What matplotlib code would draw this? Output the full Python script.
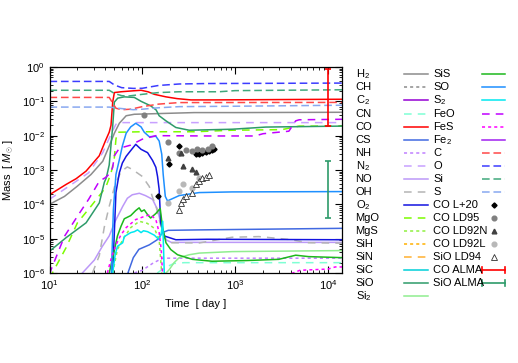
import matplotlib
matplotlib.use('Agg')
import matplotlib.pyplot as plt
from matplotlib.lines import Line2D
import numpy as np

plt.rcParams['font.family'] = ['Liberation Sans', 'DejaVu Sans']
plt.rcParams['mathtext.fontset'] = 'custom'
plt.rcParams['mathtext.rm'] = 'Liberation Sans'
plt.rcParams['mathtext.it'] = 'Liberation Sans:italic'
plt.rcParams['mathtext.sf'] = 'Liberation Sans'
plt.rcParams['font.size'] = 8

# ---------------- data (time [day], mass [Msun]) ----------------
t_H2 = [10, 14.5, 20, 28, 37.5, 44, 50, 56.6, 67, 82, 150, 362, 1000, 14200]
m_H2 = [1.0e-4, 1.7e-4, 3.4e-4, 7.4e-4, 1.8e-3, 5e-3, 1.18e-2, 2.3e-2, 3.8e-2, 4.2e-2, 4.4e-2, 4.7e-2, 4.7e-2, 4.8e-2]

t_CO = [10, 15.1, 19.4, 24.8, 34.4, 40, 44, 46, 48, 50, 59, 75, 97, 115, 135, 180, 237, 334, 600, 14200]
m_CO = [1.9e-4, 3.8e-4, 5.6e-4, 9.3e-4, 2.6e-3, 7e-3, 1.26e-2, 2.0e-2, 9.5e-2, 0.18, 0.19, 0.20, 0.21, 0.19, 0.16, 0.135, 0.12, 0.11, 0.11, 0.115]

t_N2 = [10, 18.5, 26.4, 37.5, 46, 52, 56.6, 14200]
m_N2 = [1.4e-4, 4.3e-4, 8.3e-4, 3.2e-3, 1.1e-2, 2.15e-2, 2.4e-2, 2.4e-2]

t_SiO = [10, 15.1, 24.8, 34.4, 39, 41, 44, 48, 50, 54.4, 64, 82, 97, 123, 141, 152, 180, 230, 320, 930, 2150, 14200]
m_SiO = [4.3e-6, 1.07e-5, 2.9e-5, 1.1e-4, 4.4e-4, 6e-4, 1.4e-3, 1.9e-2, 9.5e-2, 0.124, 0.135, 0.13, 0.10, 0.074, 0.056, 0.038, 0.027, 0.0173, 0.0144, 0.0154, 0.0178, 0.019]

t_MgO = [10, 15.1, 20, 28, 37.5, 41, 46, 50, 52, 54, 100, 362, 930, 3200, 4900, 14200]
m_MgO = [7e-7, 5.5e-6, 2.9e-5, 8.8e-5, 2.4e-4, 3.5e-4, 8e-4, 2.3e-3, 7.9e-3, 1.26e-2, 1.3e-2, 1.3e-2, 1.44e-2, 1.5e-2, 1.9e-2, 1.9e-2]

t_FeO = [10, 10.4, 14.5, 20, 26.4, 30.5, 34.4, 40, 45, 48, 50, 56.6, 75, 100, 140, 500, 1640, 2000, 3800, 4500, 4900, 14200]
m_FeO = [9e-7, 1.25e-6, 1.17e-5, 4.5e-5, 1.4e-4, 2.7e-4, 4.7e-4, 6e-4, 8e-4, 1.2e-3, 2.6e-3, 4.3e-3, 5.3e-3, 7.9e-3, 1e-2, 9.8e-3, 9.8e-3, 1.14e-2, 1.35e-2, 2.7e-2, 2.9e-2, 3.0e-2]

t_O2 = [48, 52, 56.6, 61, 67, 72, 85, 97, 114, 129, 140, 146, 152, 158, 172, 230, 500, 14200]
m_O2 = [1e-6, 2.2e-4, 8.3e-4, 1.6e-3, 2.5e-3, 3.2e-3, 5.6e-3, 4e-3, 3.2e-3, 1.9e-3, 1.2e-3, 6.5e-4, 2.7e-4, 2.9e-5, 1.2e-5, 9.3e-6, 9.6e-6, 9.3e-6]

t_SO = [46.5, 48.8, 52, 56.6, 61, 67, 75, 85, 97, 105, 119, 140, 152, 162, 168, 177, 187, 250, 410, 930, 14200]
m_SO = [1e-6, 7e-5, 7.4e-4, 2e-3, 5e-3, 1.18e-2, 1.8e-2, 2.3e-2, 1.8e-2, 1.26e-2, 9.3e-3, 9.6e-3, 7e-3, 2.9e-3, 7.4e-4, 1.7e-4, 1.26e-4, 1.8e-4, 2.2e-4, 2.3e-4, 2.35e-4]

t_SiS = [44, 48.8, 54, 59, 64, 75, 85, 92.5, 98, 105, 114, 123, 140, 156, 165, 180, 203, 240, 346, 565, 1300, 2960, 4500, 6200, 14200]
m_SiS = [1e-6, 3.4e-6, 1.2e-5, 2.3e-5, 3.8e-5, 4.7e-5, 6.6e-5, 7.9e-5, 6.2e-5, 6.9e-5, 5e-5, 4e-5, 5.4e-5, 7.6e-5, 2.2e-5, 7.6e-6, 4.8e-6, 3.4e-6, 2.5e-6, 2.2e-6, 2.3e-6, 2.5e-6, 3.3e-6, 3.0e-6, 2.8e-6]

t_S2 = [48, 51, 54, 61.5, 64, 75, 82, 89, 97, 103, 114, 135, 152, 160, 166, 173]
m_S2 = [1e-6, 3.4e-6, 6e-6, 7.6e-6, 1.15e-5, 1.5e-5, 1.6e-5, 1.8e-5, 1.5e-5, 1.7e-5, 1.6e-5, 1.26e-5, 9.3e-6, 1.4e-5, 3.2e-5, 8e-7]

t_NO = [22.6, 30.5, 37, 44, 51, 61.5, 69, 78, 93, 108, 129, 146, 165, 180, 205, 14200]
m_NO = [1e-6, 2.4e-6, 5.9e-6, 1.2e-5, 3.2e-5, 8.7e-5, 1.5e-4, 1.9e-4, 2.1e-4, 1.8e-4, 1.4e-4, 7e-5, 1.8e-5, 9.3e-6, 7.8e-6, 7.8e-6]

t_OH = [29, 34.4, 39, 44, 51, 59, 69, 78, 100, 119, 128, 141, 152, 172, 195, 410, 930, 1800, 3800, 6200, 14200]
m_OH = [1e-6, 3.2e-6, 2.2e-5, 8.7e-5, 3.8e-4, 9e-4, 1.23e-3, 1.04e-3, 6.5e-4, 3.3e-4, 1.7e-4, 8.7e-5, 3.6e-5, 1.07e-5, 7.6e-6, 7.5e-6, 1.1e-5, 1.15e-5, 9.5e-6, 7.6e-6, 7.4e-6]

t_CS = [70, 80, 92, 119, 145, 165, 190, 400, 14200]
m_CS = [1e-6, 2.8e-6, 4.9e-6, 6.6e-6, 9.3e-6, 1.5e-5, 1.75e-5, 1.8e-5, 2.0e-5]

t_FeS = [42, 46.5, 52, 59, 67, 85, 109, 123, 140, 152, 160, 166, 3000, 3800, 5000, 10000, 12000, 14200]
m_FeS = [1e-6, 2.8e-6, 6.6e-6, 1.3e-5, 2.1e-5, 3.6e-5, 4.6e-5, 5e-5, 3.6e-5, 1.5e-5, 4.8e-6, 8e-7, 5e-7, 9e-7, 1.2e-6, 1.3e-6, 1.5e-6, 1.5e-6]

t_MgS = [48, 54, 64, 75, 93, 113, 135, 152, 163]
m_MgS = [1e-6, 4.9e-6, 1.1e-5, 2.1e-5, 3.2e-5, 2.8e-5, 2e-5, 9.3e-6, 8e-7]

t_NH = [82, 100, 129, 165, 14200]
m_NH = [1e-6, 1.2e-6, 1.9e-6, 2.7e-6, 2.7e-6]

t_CN = [145, 172, 220, 283, 14200]
m_CN = [1e-6, 1.4e-6, 1.9e-6, 2e-6, 2e-6]

t_Si2 = [180, 195, 220, 250, 320, 410, 930, 14200]
m_Si2 = [1e-6, 1.25e-6, 2e-6, 2.8e-6, 3.4e-6, 3.8e-6, 4.2e-6, 4.5e-6]

t_C = [10, 44, 48, 52, 60, 75, 100, 150, 250, 14200]
m_C = [0.13, 0.13, 0.089, 0.063, 0.057, 0.059, 0.07, 0.083, 0.092, 0.093]

t_O = [10, 44, 50, 60, 80, 100, 150, 250, 500, 14200]
m_O = [0.38, 0.38, 0.30, 0.25, 0.238, 0.24, 0.29, 0.32, 0.33, 0.34]

t_Si = [10, 44, 50, 60, 70, 100, 150, 250, 670, 1000, 14200]
m_Si = [0.21, 0.21, 0.17, 0.146, 0.142, 0.16, 0.18, 0.19, 0.19, 0.205, 0.217]

t_S = [10, 44, 55, 80, 100, 150, 250, 1000, 14200]
m_S = [0.068, 0.068, 0.063, 0.057, 0.059, 0.065, 0.07, 0.072, 0.077]

# observations
t_L20 = [146, 195, 250, 378, 410, 443, 485, 524, 570, 593]
m_L20 = [1.7e-4, 1.45e-3, 5e-3, 2.9e-3, 3.0e-3, 3.2e-3, 3.3e-3, 3.6e-3, 3.8e-3, 4.0e-3]
t_LD95 = [105, 187, 250, 295, 345, 390, 445, 505, 570]
m_LD95 = [0.039, 6.6e-3, 3.1e-3, 3.8e-3, 3.6e-3, 4.0e-3, 3.8e-3, 4.2e-3, 5.0e-3]
t_LD92N = [187, 260, 276, 345, 380]
m_LD92N = [2.3e-3, 3.1e-3, 1.3e-3, 1.05e-3, 8.5e-4]
t_LD92L = [187, 250, 275, 340, 410]
m_LD92L = [1.1e-4, 2.4e-4, 4.0e-4, 3.0e-4, 6.0e-4]
t_LD94 = [250, 260, 276, 297, 345, 378, 410, 443, 485, 524]
m_LD94 = [7e-5, 1.1e-4, 1.45e-4, 1.75e-4, 2.1e-4, 3.8e-4, 4.7e-4, 5.7e-4, 6.3e-4, 7e-4]
t_alma = 1.0e4
co_alma_lo, co_alma_hi = 0.019, 0.87
sio_alma_lo, sio_alma_hi = 4.0e-5, 1.8e-3

# ---------------- styles ----------------
styles = {
    'H2': ('#8c8c8c', None), 'CH': ('#8c8c8c', (2, 2)), 'C2': ('#9400d3', None),
    'CN': ('#7fffd4', (5, 4)), 'CO': ('#ff0000', None), 'CS': ('#4169e1', None),
    'NH': ('#c080ff', (2, 2)), 'N2': ('#c8a0ff', (5, 4)), 'NO': ('#bc98f8', None),
    'OH': ('#b4b4b4', (5, 4)), 'O2': ('#1414e0', None), 'MgO': ('#7cfc00', (5, 4)),
    'MgS': ('#90f040', (2, 2)), 'SiH': ('#ffb000', (2, 2)), 'SiN': ('#ffb030', (5, 4)),
    'SiC': ('#00d0d8', None), 'SiO': ('#2e9b6a', None), 'Si2': ('#90ee90', None),
    'SiS': ('#1cb81c', None), 'SO': ('#1e90ff', None), 'S2': ('#00e8f0', None),
    'FeO': ('#c000ff', (5, 4)), 'FeS': ('#ff00ff', (2, 2)), 'Fe2': ('#a020f0', None),
    'C': ('#ff4848', (5, 2.5)), 'O': ('#3c3cff', (5, 2.5)), 'Si': ('#40a87c', (5, 2.5)),
    'S': ('#88a8f0', (5, 2.5)),
}
LW = 1.1
MK = {'L20': dict(marker='D', ms=2.6, color='black'),
      'LD95': dict(marker='o', ms=3.4, color='#808080'),
      'LD92N': dict(marker='^', ms=3.4, color='#404040'),
      'LD92L': dict(marker='o', ms=3.4, color='#b8b8b8'),
      'LD94': dict(marker='^', ms=3.8, mfc='white', mec='#303030', mew=0.6)}

W, H = 518, 363
fig = plt.figure(figsize=(W / 100, H / 100), dpi=100)
ax = fig.add_axes([49.5 / W, 1 - 273 / H, 292.5 / W, 206 / H])

series = [
    ('H2', t_H2, m_H2), ('CN', t_CN, m_CN), ('CO', t_CO, m_CO), ('CS', t_CS, m_CS),
    ('NH', t_NH, m_NH), ('N2', t_N2, m_N2), ('NO', t_NO, m_NO), ('OH', t_OH, m_OH),
    ('O2', t_O2, m_O2), ('MgO', t_MgO, m_MgO), ('MgS', t_MgS, m_MgS),
    ('SiO', t_SiO, m_SiO), ('Si2', t_Si2, m_Si2), ('SiS', t_SiS, m_SiS),
    ('SO', t_SO, m_SO), ('S2', t_S2, m_S2), ('FeO', t_FeO, m_FeO), ('FeS', t_FeS, m_FeS),
    ('C', t_C, m_C), ('O', t_O, m_O), ('Si', t_Si, m_Si), ('S', t_S, m_S),
]
for name, t, m in series:
    c, d = styles[name]
    kw = dict(color=c, lw=LW)
    if d is not None:
        kw['dashes'] = d
    ax.plot(t, m, **kw)

ax.plot(t_L20, m_L20, ls='none', **MK['L20'])
ax.plot(t_LD95, m_LD95, ls='none', **MK['LD95'])
ax.plot(t_LD92N, m_LD92N, ls='none', **MK['LD92N'])
ax.plot(t_LD92L, m_LD92L, ls='none', **MK['LD92L'])
ax.plot(t_LD94, m_LD94, ls='none', **MK['LD94'])

for lo, hi, c in [(co_alma_lo, co_alma_hi, '#ff0000'), (sio_alma_lo, sio_alma_hi, '#2e9b6a')]:
    mid = np.sqrt(lo * hi)
    ax.errorbar([t_alma], [mid], yerr=[[mid - lo], [hi - mid]], fmt='none',
                ecolor=c, elinewidth=1.2, capsize=2.5, capthick=1.2)

ax.set_xscale('log')
ax.set_yscale('log')
ax.set_xlim(10, 1.42e4)
ax.set_ylim(1e-6, 1)
ax.tick_params(which='both', direction='in', top=True, right=True, labelsize=8)
ax.tick_params(which='major', length=5, width=0.8)
ax.tick_params(which='minor', length=2.5, width=0.6)
for s in ax.spines.values():
    s.set_linewidth(0.9)
ax.set_xlabel('Time  [ day ]', fontsize=8, labelpad=5)
ax.set_ylabel(r'Mass  [ $M_{\odot}$ ]', fontsize=8, labelpad=4)

# ---------------- legend (drawn by hand) ----------------
col1 = ['H$_2$', 'CH', 'C$_2$', 'CN', 'CO', 'CS', 'NH', 'N$_2$', 'NO', 'OH', 'O$_2$',
        'MgO', 'MgS', 'SiH', 'SiN', 'SiC', 'SiO', 'Si$_2$']
key1 = ['H2', 'CH', 'C2', 'CN', 'CO', 'CS', 'NH', 'N2', 'NO', 'OH', 'O2',
        'MgO', 'MgS', 'SiH', 'SiN', 'SiC', 'SiO', 'Si2']
col2 = ['SiS', 'SO', 'S$_2$', 'FeO', 'FeS', 'Fe$_2$', 'C', 'O', 'Si', 'S',
        'CO L+20', 'CO LD95', 'CO LD92N', 'CO LD92L', 'SiO LD94', 'CO ALMA', 'SiO ALMA']
key2 = ['SiS', 'SO', 'S2', 'FeO', 'FeS', 'Fe2', 'C', 'O', 'Si', 'S',
        'L20', 'LD95', 'LD92N', 'LD92L', 'LD94', 'COALMA', 'SiOALMA']


def fx(x):
    return x / W


def fy(y):
    return 1 - y / H


y0, dy = 74.3, 13.07


def sample(key, xa, xb, y):
    if key in styles:
        c, d = styles[key]
        kw = dict(color=c, lw=LW, transform=fig.transFigure)
        if d is not None:
            kw['dashes'] = d
        fig.add_artist(Line2D([fx(xa), fx(xb)], [fy(y), fy(y)], **kw))
        return
    xm = fx((xa + xb) / 2 + 1)
    if key in MK:
        fig.add_artist(Line2D([xm], [fy(y)], ls='none', transform=fig.transFigure, **MK[key]))
    else:
        c = '#ff0000' if key == 'COALMA' else '#2e9b6a'
        fig.add_artist(Line2D([fx(xa), fx(xb)], [fy(y), fy(y)], color=c, lw=1.2,
                              transform=fig.transFigure))
        for xx in (xa, xb):
            fig.add_artist(Line2D([fx(xx), fx(xx)], [fy(y - 3), fy(y + 3)], color=c, lw=1.2,
                                  transform=fig.transFigure))


for i, (lab, key) in enumerate(zip(col1, key1)):
    y = y0 + i * dy
    fig.text(fx(355.5), fy(y), lab, ha='left', va='center', fontsize=8)
    sample(key, 403.5, 427.5, y)
for i, (lab, key) in enumerate(zip(col2, key2)):
    y = y0 + i * dy
    fig.text(fx(433.3), fy(y), lab, ha='left', va='center', fontsize=8)
    sample(key, 481.7, 505, y)

fig.savefig('out.png', dpi=100)
